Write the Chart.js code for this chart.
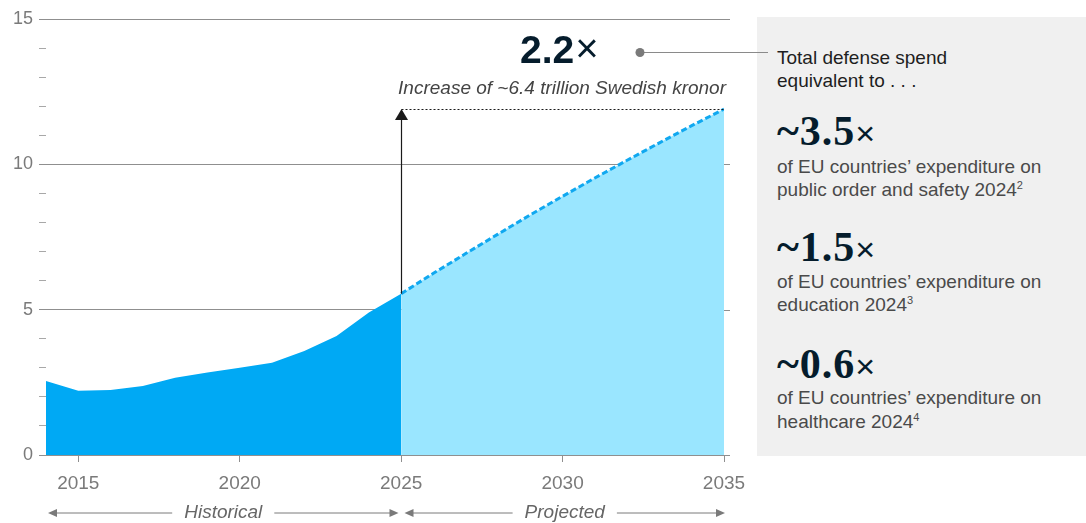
<!DOCTYPE html>
<html lang="en">
<head>
<meta charset="UTF-8" />
<title>Defense spend</title>
<script src="https://cdn.jsdelivr.net/npm/chart.js"></script>
<style>
  body { margin: 0; width: 1086px; height: 523px; overflow: hidden; background: #fff;
         font-family: "Liberation Sans", Arial, sans-serif; position: relative; }
  .panel { position: absolute; left: 757px; top: 17px; width: 329px; height: 439px; background: #f0f0f0; }
  .txt { position: absolute; left: 777px; font-size: 19px; line-height: 23px; color: #4a4a4a; white-space: nowrap; }
  .lead { color: #1e1e1e; }
  .big { position: absolute; left: 777px; font-family: "Liberation Serif", serif; font-weight: bold;
         font-size: 42px; line-height: 42px; color: #051c2c; white-space: nowrap; letter-spacing: 1px; }
  .big span { font-family: "Liberation Sans", sans-serif; font-weight: normal; font-size: 34px; letter-spacing: 0; }
  .sup { font-size: 11px; position: relative; top: -7px; }
  #wrap { position: absolute; left: 0; top: 0; width: 1086px; height: 523px; }
</style>
</head>
<body>

  <!-- side box -->
  <div class="panel"></div>
  <div class="txt lead" style="top:46px">Total defense spend</div>
  <div class="txt lead" style="top:69px">equivalent to . . .</div>

  <div class="big" style="top:110px">~3.5<span>×</span></div>
  <div class="txt" style="top:155px">of EU countries’ expenditure on</div>
  <div class="txt" style="top:178px">public order and safety 2024<span class="sup">2</span></div>

  <div class="big" style="top:226px">~1.5<span>×</span></div>
  <div class="txt" style="top:270px">of EU countries’ expenditure on</div>
  <div class="txt" style="top:293px">education 2024<span class="sup">3</span></div>

  <div class="big" style="top:343px">~0.6<span>×</span></div>
  <div class="txt" style="top:386px">of EU countries’ expenditure on</div>
  <div class="txt" style="top:410px">healthcare 2024<span class="sup">4</span></div>

  <div id="wrap">
    <canvas id="gasto" width="1086" height="523"></canvas>
  </div>

<script>
  // defense spend, trillion SEK
  const histYears = [2014, 2015, 2016, 2017, 2018, 2019, 2020, 2021, 2022, 2023, 2024, 2025];
  const historical = [2.55, 2.21, 2.24, 2.37, 2.66, 2.84, 3.0, 3.17, 3.58, 4.09, 4.9, 5.55];
  const projYears = [2025, 2026, 2027, 2028, 2029, 2030, 2031, 2032, 2033, 2034, 2035];
  const projected = [5.55, 6.25, 6.93, 7.6, 8.26, 8.9, 9.53, 10.14, 10.74, 11.33, 11.9];

  const xTicks = [2015, 2020, 2025, 2030, 2035];
  const yMajor = [0, 5, 10, 15];

  const multiple = '2.2';
  const increaseNote = 'Increase of ~6.4 trillion Swedish kronor';
  const periods = ['Historical', 'Projected'];

  const GRID = '#8f8f8f';
  const LABEL = '#7a7a7a';

  function toPoints(xs, ys) {
    return xs.map((x, i) => ({ x: x, y: ys[i] }));
  }

  function arrowHead(ctx, x, y, dir) {
    // dir: -1 points left, 1 points right
    ctx.beginPath();
    ctx.moveTo(x, y);
    ctx.lineTo(x - dir * 9, y - 4);
    ctx.lineTo(x - dir * 9, y + 4);
    ctx.closePath();
    ctx.fill();
  }

  function periodArrow(ctx, x0, x1, y, label) {
    ctx.font = 'italic 19px "Liberation Sans"';
    const w = ctx.measureText(label).width;
    const mid = (x0 + x1) / 2;
    ctx.strokeStyle = '#7a7a7a';
    ctx.fillStyle = '#7a7a7a';
    ctx.lineWidth = 1;
    ctx.beginPath();
    ctx.moveTo(x0 + 4, y);
    ctx.lineTo(mid - w / 2 - 12, y);
    ctx.moveTo(mid + w / 2 + 12, y);
    ctx.lineTo(x1 - 4, y);
    ctx.stroke();
    arrowHead(ctx, x0, y, -1);
    arrowHead(ctx, x1, y, 1);
    ctx.fillStyle = '#666';
    ctx.textAlign = 'center';
    ctx.textBaseline = 'middle';
    ctx.fillText(label, mid, y);
  }

  const anotacoes = {
    id: 'anotacoes',
    afterDatasetsDraw(chart) {
      const ctx = chart.ctx;
      const xs = chart.scales.x;
      const ys = chart.scales.y;
      const area = chart.chartArea;
      ctx.save();

      // major gridlines run a little past the plot
      ctx.strokeStyle = GRID;
      ctx.lineWidth = 1;
      yMajor.forEach(v => {
        const y = Math.round(ys.getPixelForValue(v)) + 0.5;
        ctx.beginPath();
        ctx.moveTo(area.right, y);
        ctx.lineTo(area.right + 6, y);
        ctx.stroke();
      });

      // increase arrow 2025 -> 2035
      const xa = Math.round(xs.getPixelForValue(2025)) + 0.5;
      const xb = xs.getPixelForValue(2035);
      const yLow = ys.getPixelForValue(projected[0]);
      const yTop = ys.getPixelForValue(projected[projected.length - 1]);

      ctx.strokeStyle = '#1a1a1a';
      ctx.fillStyle = '#1a1a1a';
      ctx.lineWidth = 1.2;
      ctx.beginPath();
      ctx.moveTo(xa, yLow);
      ctx.lineTo(xa, yTop + 10);
      ctx.stroke();
      ctx.beginPath();
      ctx.moveTo(xa, yTop);
      ctx.lineTo(xa - 6.5, yTop + 11);
      ctx.lineTo(xa + 6.5, yTop + 11);
      ctx.closePath();
      ctx.fill();

      ctx.lineWidth = 1;
      ctx.setLineDash([2, 2]);
      ctx.beginPath();
      ctx.moveTo(xa, Math.round(yTop) + 0.5);
      ctx.lineTo(xb, Math.round(yTop) + 0.5);
      ctx.stroke();
      ctx.setLineDash([]);

      // note and multiple
      ctx.fillStyle = '#444';
      ctx.font = 'italic 19px "Liberation Sans"';
      ctx.textAlign = 'right';
      ctx.textBaseline = 'alphabetic';
      ctx.fillText(increaseNote, area.right + 2, yTop - 15);

      ctx.fillStyle = '#051c2c';
      ctx.textAlign = 'left';
      ctx.font = 'bold 39px "Liberation Sans"';
      const wNum = ctx.measureText(multiple).width;
      ctx.fillText(multiple, 520, yTop - 46);
      ctx.font = '40px "Liberation Sans"';
      ctx.fillText('×', 520 + wNum + 1, yTop - 47);

      // connector to side box
      const yc = Math.round(yTop - 57) + 0.5;
      ctx.strokeStyle = '#8a8a8a';
      ctx.lineWidth = 1;
      ctx.beginPath();
      ctx.moveTo(640, yc);
      ctx.lineTo(768, yc);
      ctx.stroke();
      ctx.fillStyle = '#7a7a7a';
      ctx.beginPath();
      ctx.arc(640, yc, 4.5, 0, Math.PI * 2);
      ctx.fill();

      // historical / projected markers
      const yp = 513;
      periodArrow(ctx, xs.getPixelForValue(2014) + 2, xa - 3, yp, periods[0]);
      periodArrow(ctx, xa + 3, xb + 1, yp, periods[1]);

      ctx.restore();
    }
  };

  const grafico = document.getElementById('gasto');
  new Chart(grafico, {
    type: 'line',
    data: {
      datasets: [
        {
          label: 'Historical',
          data: toPoints(histYears, historical),
          backgroundColor: '#00a9f4',
          borderWidth: 0,
          fill: 'origin'
        },
        {
          label: 'Projected',
          data: toPoints(projYears, projected),
          backgroundColor: '#9ae6ff',
          borderColor: '#10a8f0',
          borderWidth: 3,
          borderDash: [6, 3],
          fill: 'origin'
        }
      ]
    },
    options: {
      responsive: false,
      animation: false,
      devicePixelRatio: 1,
      layout: { padding: { top: 19, right: 362, left: 0, bottom: 0 } },
      plugins: { legend: { display: false }, tooltip: { enabled: false } },
      elements: { point: { radius: 0 }, line: { tension: 0 } },
      scales: {
        x: {
          type: 'linear',
          min: 2014,
          max: 2035,
          afterBuildTicks: s => { s.ticks = xTicks.map(v => ({ value: v })); },
          afterFit: s => { s.height = 68; },
          border: { display: false },
          grid: { drawOnChartArea: false, drawTicks: true, tickLength: 7, color: GRID },
          ticks: {
            padding: 10,
            color: LABEL,
            autoSkip: false,
            maxRotation: 0,
            font: { family: 'Liberation Sans', size: 19 },
            callback: v => String(v)
          }
        },
        y: {
          min: 0,
          max: 15,
          afterFit: s => { s.width = 46; },
          border: { display: false },
          grid: {
            color: c => c.tick.value % 5 === 0 ? GRID : 'rgba(0,0,0,0)',
            tickColor: c => c.tick.value % 5 === 0 ? GRID : '#a8a8a8',
            tickLength: 7,
            lineWidth: 1
          },
          ticks: {
            stepSize: 1,
            padding: 6,
            autoSkip: false,
            color: LABEL,
            font: { family: 'Liberation Sans', size: 18 },
            callback: v => v % 5 === 0 ? String(v) : ''
          }
        }
      }
    },
    plugins: [anotacoes]
  });
</script>
</body>
</html>
